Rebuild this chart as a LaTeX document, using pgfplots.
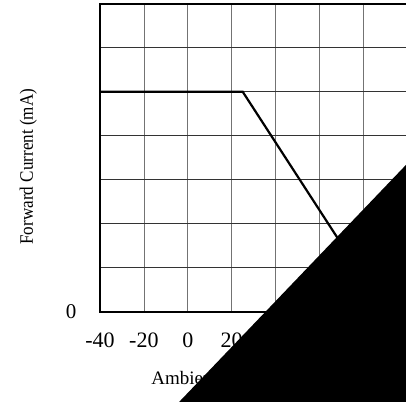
\documentclass[border=0pt]{standalone}
\usepackage{fontspec}
\setmainfont{Liberation Serif}
\newfontfamily\ylabelfont[FakeStretch=0.9]{Liberation Serif}
\usepackage{pgfplots}
\pgfplotsset{compat=1.18}
\begin{document}
\begin{tikzpicture}
\begin{axis}[
  set layers,
  scale only axis,
  x=2.195pt, y=44pt,
  xmin=-40, xmax=100, ymin=0, ymax=7,
  clip=false,
  xtick={-40,-20,...,100},
  xticklabels={-40,-20,0,20,40,60,80,},
  ytick={0,...,7},
  yticklabels={0,,,,,,,},
  major tick length=0pt,
  grid=major,
  x grid style={black!55, line width=0.8pt},
  y grid style={black!80, line width=0.8pt},
  axis line style={line width=1.8pt},
  xticklabel style={font=\fontsize{22}{25}\selectfont, anchor=center, yshift=-28.6pt},
  yticklabel style={font=\fontsize{21}{24}\selectfont, anchor=center, xshift=-29pt},
  xlabel={Ambient Temperature (°C)},
  xlabel style={font=\fontsize{19}{22}\selectfont, at={(rel axis cs:0.5,0)}, anchor=center, yshift=-68.3pt},
  ylabel={Forward Current (mA)},
  ylabel style={font=\ylabelfont\fontsize{19}{22}\selectfont, at={(rel axis cs:-0.233,0.471)}, anchor=center},
]
% derating curve
\addplot[black, line width=2.2pt] coordinates {(-40,5) (25,5) (90,0)};
% black corner that covers the lower right
\addplot[on layer=axis foreground, fill=black, draw=none]
  coordinates {(-11.8,-2.46) (105.8,3.67) (105.8,-2.46)};
\end{axis}
\pgfresetboundingbox
\useasboundingbox (-100pt,-89.3pt) rectangle (306pt,311.7pt);
\end{tikzpicture}
\end{document}
